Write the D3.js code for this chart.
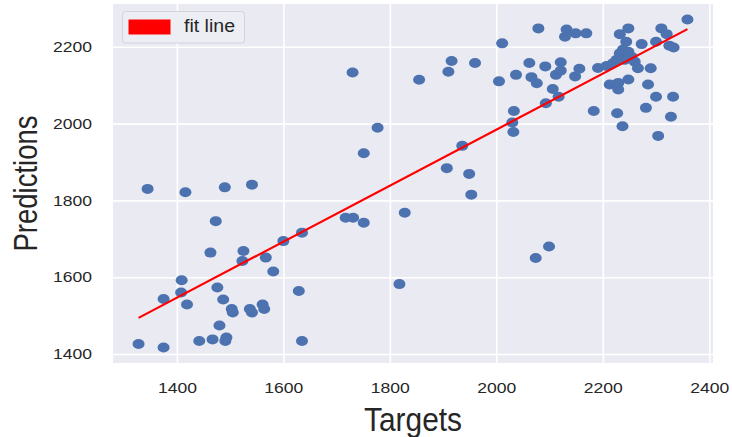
<!DOCTYPE html>
<html>
<head>
<meta charset="utf-8">
<script src="https://cdn.jsdelivr.net/npm/d3@7"></script>
<style>
  body { margin: 0; background: #ffffff; }
  svg { display: block; }
  text { font-family: "Liberation Sans", Arial, Helvetica, sans-serif; fill: #262626; }
</style>
</head>
<body>
<svg id="chart" width="732" height="437"></svg>
<script>
// Observed targets vs. model predictions
const targets = [
  1328, 1375, 1345, 1416, 1490, 1541, 1473, 1375, 1409, 1408,
  1419, 1476, 1487, 1503, 1505, 1537, 1541, 1561, 1564, 1480,
  1442, 1467, 1493, 1491, 1463, 1525, 1523, 1567, 1581, 1600,
  1635, 1629, 1635, 1717, 1731, 1751, 1730, 1777, 1751, 1828,
  1818, 1855, 1910, 1916, 1960, 1907, 1936, 1949, 1953, 2005,
  2011, 2033, 2030, 2032, 2037, 2062, 2066, 2076, 2079, 2092,
  2093, 2106, 2117, 2112, 2121, 2121, 2132, 2129, 2149, 2169,
  2148, 2156, 2074, 2099, 2183, 2191, 2207, 2219, 2213, 2229,
  2229, 2248, 2227, 2237, 2232, 2248, 2244, 2238, 2248, 2232,
  2254, 2241, 2226, 2260, 2266, 2273, 2290, 2285, 2300, 2281,
  2304, 2300, 2310, 2320, 2325, 2332, 2328, 2359, 2333
];
const predictions = [
  1426, 1417, 1830, 1821, 1834, 1841, 1746, 1543, 1592, 1560,
  1529, 1573, 1542, 1517, 1508, 1517, 1508, 1529, 1517, 1474,
  1434, 1438, 1443, 1434, 1664, 1668, 1642, 1651, 1615, 1694,
  1716, 1564, 1434, 1755, 1755, 1742, 2133, 1989, 1923, 1768,
  1582, 2114, 2135, 2163, 2158, 1884, 1942, 1869, 1815, 2110,
  2209, 2033, 2003, 1978, 2127, 2158, 2121, 2105, 2248, 2149,
  2053, 2090, 2070, 2127, 2160, 2138, 2245, 2226, 2235, 2235,
  2123, 2143, 1650, 1680, 2033, 2145, 2150, 2157, 2102, 2089,
  2106, 2115, 2027, 1993, 2233, 2248, 2213, 2193, 2187, 2183,
  2174, 2166, 2166, 2161, 2144, 2207, 2144, 2102, 2070, 2041,
  1968, 2213, 2248, 2233, 2203, 2070, 2018, 2271, 2198
];

// Regression line end points
const fitTargets = [1328, 2359];
const fitPredictions = [1494, 2246];

const xTicks = [1400, 1600, 1800, 2000, 2200, 2400];
const yTicks = [1400, 1600, 1800, 2000, 2200];
const xTitle = "Targets";
const yTitle = "Predictions";
const legendLabel = "fit line";

const svg = d3.select("#chart");
const plot = { left: 113, right: 713, top: 4, bottom: 363 };

const x = d3.scaleLinear().domain([1280, 2407]).range([plot.left, plot.right]);
const y = d3.scaleLinear().domain([1376.5, 2311.5]).range([plot.bottom, plot.top]);

// Panel background
svg.append("rect")
  .attr("x", plot.left).attr("y", plot.top)
  .attr("width", plot.right - plot.left).attr("height", plot.bottom - plot.top)
  .attr("fill", "#EAEAF2");

// Axes drawn as white grid lines across the panel
const xAxis = svg.append("g")
  .attr("transform", `translate(0,${plot.bottom})`)
  .call(d3.axisBottom(x).tickValues(xTicks).tickFormat(d3.format("d"))
    .tickSize(-(plot.bottom - plot.top)).tickPadding(19));
const yAxis = svg.append("g")
  .attr("transform", `translate(${plot.left},0)`)
  .call(d3.axisLeft(y).tickValues(yTicks).tickFormat(d3.format("d"))
    .tickSize(-(plot.right - plot.left)).tickPadding(21));

[xAxis, yAxis].forEach(g => {
  g.select(".domain").remove();
  g.selectAll(".tick line").attr("stroke", "#ffffff").attr("stroke-width", 1.6);
  g.selectAll(".tick text")
    .attr("font-family", "Liberation Sans, Arial, sans-serif")
    .attr("font-size", 15)
    .attr("fill", "#262626")
    .attr("textLength", 39)
    .attr("lengthAdjust", "spacingAndGlyphs");
});

// Scatter points
svg.append("g")
  .selectAll("ellipse")
  .data(targets.map((t, i) => [t, predictions[i]]))
  .join("ellipse")
  .attr("cx", d => x(d[0]))
  .attr("cy", d => y(d[1]))
  .attr("rx", 6)
  .attr("ry", 5)
  .attr("fill", "#4C72B0");

// Fit line
svg.append("path")
  .datum(fitTargets.map((t, i) => [t, fitPredictions[i]]))
  .attr("d", d3.line().x(d => x(d[0])).y(d => y(d[1])))
  .attr("fill", "none")
  .attr("stroke", "#FF0000")
  .attr("stroke-width", 2.2);

// Legend
const legend = svg.append("g");
legend.append("rect")
  .attr("x", 122.5).attr("y", 11.5).attr("width", 122).attr("height", 31.5)
  .attr("rx", 3).attr("fill", "#EDEDF4").attr("stroke", "#D2D2DA").attr("stroke-width", 1);
legend.append("rect")
  .attr("x", 128.5).attr("y", 19.5).attr("width", 42).attr("height", 15)
  .attr("fill", "#FF0000");
legend.append("text")
  .attr("x", 184).attr("y", 31.5)
  .attr("font-size", 18)
  .attr("textLength", 51).attr("lengthAdjust", "spacingAndGlyphs")
  .text(legendLabel);

// Axis titles
svg.append("text")
  .attr("x", (plot.left + plot.right) / 2).attr("y", 431)
  .attr("text-anchor", "middle")
  .attr("font-size", 34)
  .attr("textLength", 98).attr("lengthAdjust", "spacingAndGlyphs")
  .text(xTitle);
svg.append("text")
  .attr("transform", `translate(37,${(plot.top + plot.bottom) / 2}) rotate(-90)`)
  .attr("text-anchor", "middle")
  .attr("font-size", 34)
  .attr("textLength", 136).attr("lengthAdjust", "spacingAndGlyphs")
  .text(yTitle);
</script>
</body>
</html>
